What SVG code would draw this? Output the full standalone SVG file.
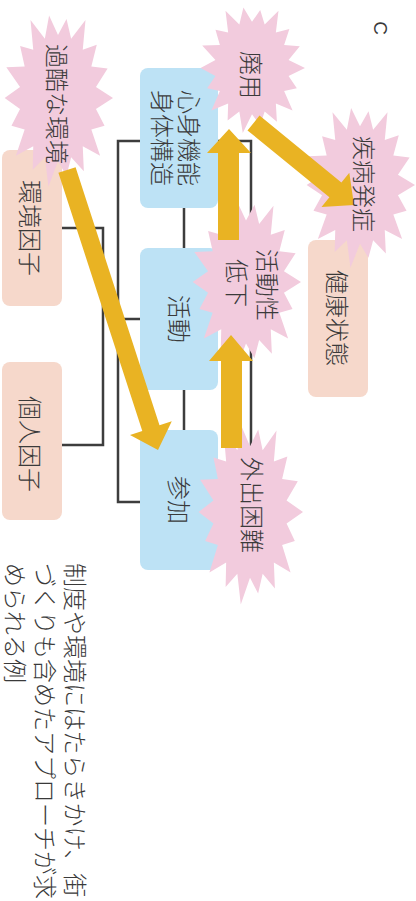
<svg xmlns="http://www.w3.org/2000/svg" xmlns:xlink="http://www.w3.org/1999/xlink" width="416" height="901" viewBox="0 0 416 901">
<style>
.t{font-family:"Noto Sans CJK JP","Noto Sans",sans-serif;font-size:24px;font-weight:300;fill:#3a3a3a;}
.blue{fill:#bde2f5;}
.peach{fill:#f6d8cb;}
.arrow{fill:#e9b323;}
.ln{fill:none;stroke:#3d3d3d;stroke-width:2.5;}
</style>
<defs>
<path id="burst" fill="#f2cbdd" d="M1,0 L.690,.122 L.846,.308 L.606,.350 L.766,.643 L.450,.536 L.470,.814 L.239,.658 L.153,.867 L0,.7 L-.174,.985 L-.239,.658 L-.460,.797 L-.450,.536 L-.766,.643 L-.606,.350 L-.846,.308 L-.690,.122 L-.97,0 L-.690,-.122 L-.940,-.342 L-.606,-.350 L-.689,-.579 L-.450,-.536 L-.5,-.866 L-.239,-.658 L-.162,-.916 L0,-.7 L.155,-.877 L.239,-.658 L.5,-.866 L.450,-.536 L.705,-.591 L.606,-.350 L.902,-.328 L.690,-.122 Z"/>
</defs>
<rect width="416" height="901" fill="#ffffff"/>
<g id="connectors">
<path class="ln" d="M140,141 H118 V502 H140 M118,319 H140"/>
<path class="ln" d="M62,228 H103 V445 H62"/>
<path class="ln" d="M218,141 H251 V502 H218 M218,319 H251"/>
<path class="ln" d="M184,208 V248 M184,390 V430"/>
</g>
<g id="box-kankyo"><rect class="peach" x="2" y="150" width="60" height="156" rx="8"/></g>
<g id="box-kojin"><rect class="peach" x="2" y="362" width="60" height="158" rx="8"/></g>
<g id="box-kenko"><rect class="peach" x="308" y="240" width="60" height="157" rx="8"/></g>
<g id="box-shinshin"><rect class="blue" x="140" y="68" width="78" height="140" rx="8"/></g>
<g id="box-katsudo"><rect class="blue" x="140" y="248" width="78" height="142" rx="8"/></g>
<g id="box-sanka"><rect class="blue" x="140" y="430" width="78" height="140" rx="8"/></g>
<g id="burst-kakoku"><use xlink:href="#burst" transform="translate(58,98) scale(55,90)"/></g>
<g id="burst-haiyo"><use xlink:href="#burst" transform="translate(252,68) scale(53,66)"/></g>
<g id="burst-shippei"><use xlink:href="#burst" transform="translate(360,185) scale(55,84)"/></g>
<g id="burst-teika"><use xlink:href="#burst" transform="translate(246,282) scale(55,88)"/></g>
<g id="burst-gaishutsu"><use xlink:href="#burst" transform="translate(250,512) scale(53,94)"/></g>
<g id="arrows">
<polygon class="arrow" points="75.6,167.2 159.5,425.3 171.8,421.3 158,450 130,434.9 142.3,430.9 58.4,172.8"/>
<polygon class="arrow" points="218,240 218,153 207,153 229,129 251,153 239,153 239,240"/>
<polygon class="arrow" points="221,448 221,361 209,361 231,335 253,361 242,361 242,448"/>
<polygon class="arrow" points="259.5,115.6 341.4,182.4 349.3,172.7 354,205 321.5,206.9 329.4,197.2 247.5,130.4"/>
</g>
<g id="labels" dominant-baseline="central">
<text class="t" transform="translate(380,28) rotate(90)" text-anchor="middle" style="font-family:'Liberation Sans',sans-serif;font-size:19px">C</text>
<text class="t" transform="translate(58,104) rotate(90)" text-anchor="middle">過酷な環境</text>
<text class="t" transform="translate(252,75) rotate(90)" text-anchor="middle">廃用</text>
<text class="t" transform="translate(365,184) rotate(90)" text-anchor="middle">疾病発症</text>
<text class="t" transform="translate(190,138) rotate(90)" text-anchor="middle">心身機能</text>
<text class="t" transform="translate(163,138) rotate(90)" text-anchor="middle">身体構造</text>
<text class="t" transform="translate(180,319) rotate(90)" text-anchor="middle">活動</text>
<text class="t" transform="translate(180,500) rotate(90)" text-anchor="middle">参加</text>
<text class="t" transform="translate(31,228) rotate(90)" text-anchor="middle">環境因子</text>
<text class="t" transform="translate(31,444) rotate(90)" text-anchor="middle">個人因子</text>
<text class="t" transform="translate(338,318) rotate(90)" text-anchor="middle">健康状態</text>
<text class="t" transform="translate(268,249) rotate(90)">活動性</text>
<text class="t" transform="translate(238,259) rotate(90)">低下</text>
<text class="t" transform="translate(253,505) rotate(90)" text-anchor="middle">外出困難</text>
<text class="t" transform="translate(76,563) rotate(90)">制度や環境にはたらきかけ、街</text>
<text class="t" transform="translate(46,563) rotate(90)">づくりも含めたアプローチが求</text>
<text class="t" transform="translate(16,563) rotate(90)">められる例</text>
</g>
</svg>
